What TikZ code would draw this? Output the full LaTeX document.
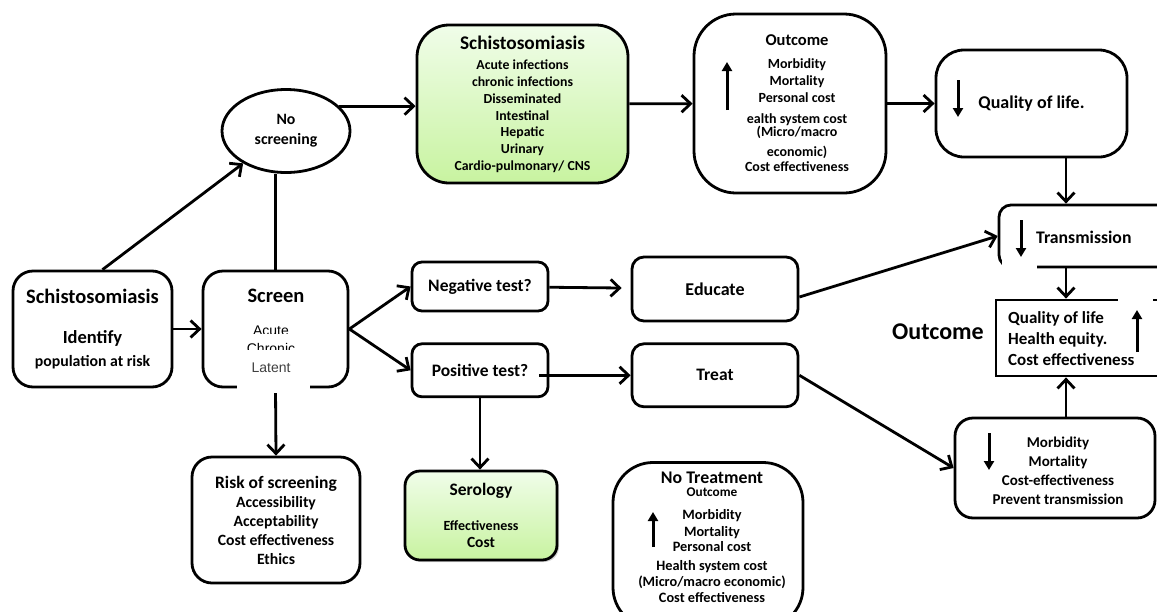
\documentclass[tikz,border=0pt]{standalone}
\usepackage{fontspec}
\setmainfont{Carlito}
\newfontfamily\latentfont{Liberation Sans}
\usetikzlibrary{positioning,calc,arrows.meta,shapes.geometric,shadows}
\definecolor{gtop}{HTML}{F0FDE9}
\definecolor{gbot}{HTML}{C8F3A0}
\newcommand{\setfs}[2]{\fontsize{#1}{#2}\selectfont}
\tikzset{dbox/.style={draw, line width=2.8pt, rounded corners=#1, align=center, inner sep=0pt}, dbox/.default=12pt}
\tikzset{dtxt/.style={inner sep=0pt, align=center}}
\tikzset{fsz/.style 2 args={font=\fontsize{#1}{#2}\selectfont\bfseries}}
\tikzset{dgreen/.style={top color=gtop, bottom color=gbot}}
\tikzset{darr/.style={draw, line width=2.8pt, -{Straight Barb[length=9pt,width=17pt]}}}
\tikzset{dline/.style={draw, line width=2.8pt}}
\tikzset{dbig/.style={draw, line width=3pt, -{Triangle[length=9pt,width=10pt]}}}
\tikzset{scrtxt/.style={anchor=base, inner sep=0pt, font=\latentfont\setfs{14}{16}}}

\begin{document}
\begin{tikzpicture}[x=1pt, y=-1pt]
\useasboundingbox (0,0) rectangle (1157,611);
\clip (0,0) rectangle (1157,611);
%
\node[dbox=20pt, minimum width=159pt, minimum height=116pt, fsz={15.8}{22}] (idn) at (92.5,329)
	{{\setfs{20.5}{22}Schistosomiasis}\\[18pt]{\setfs{18.5}{22}Identify}\\[1pt]population at risk};
\node[dbox=20pt, minimum width=145pt, minimum height=116pt] (scr) at (275.5,329) {};
\node[dtxt, fsz={20.5}{22}] (scrt) at (276,296) {Screen};
\node[draw, ellipse, line width=2.8pt, minimum width=128pt, minimum height=83pt, dtxt, fsz={15.8}{20}] (nos) at (286,131) {No\\screening};
%
\node[dbox=32pt, dgreen, minimum width=211pt, minimum height=158pt, fsz={13.8}{16.7}] (dis) at (522.5,104)
	{{\setfs{19.3}{16.7}Schistosomiasis}\\[4pt]Acute infections\\chronic infections\\Disseminated\\Intestinal\\Hepatic\\Urinary\\Cardio-pulmonary/ CNS};
\node[dbox=42pt, minimum width=192pt, minimum height=179pt] (out1) at (790,103.5) {};
\node[dtxt, fsz={14}{17}] (out1t) at (797,103)
	{{\setfs{16.5}{17}Outcome}\\[6pt]Morbidity\\Mortality\\Personal cost\\[4pt]ealth system cost\\[-4pt](Micro/macro\\[3pt]economic)\\[-2pt]Cost effectiveness};
\node[dbox=28pt, minimum width=191pt, minimum height=107pt, fsz={18}{20}] (qol) at (1031.5,103.5) {Quality of life.};
%
\node[dbox=12pt, minimum width=180pt, minimum height=62pt] (trn) at (1089,236) {};
\node[dtxt, fsz={17.7}{20}, anchor=west] (trnt) at (1036,237) {Transmission};
\node[dbox, sharp corners, minimum width=182pt, minimum height=76pt] (out2) at (1087,338) {};
\node[dtxt, fsz={17}{21}, anchor=west, align=left] (out2t) at (1008,339) {Quality of life\\Health equity.\\Cost effectiveness};
\node[dtxt, fsz={24}{28}] (outl) at (938,332) {Outcome};
\node[dbox=18pt, minimum width=200pt, minimum height=100pt] (mor) at (1055,468) {};
\node[dtxt, fsz={15}{19}] (mort) at (1058,471) {Morbidity\\Mortality\\Cost-effectiveness\\Prevent transmission};
%
\node[dbox=10pt, minimum width=136pt, minimum height=49pt, fsz={17.5}{20}] (neg) at (480,286.5) {Negative test?};
\node[dbox=10pt, minimum width=136pt, minimum height=53pt, fsz={17.5}{20}, below=30pt of neg] (pos) {Positive test?};
\node[dbox, minimum width=166pt, minimum height=64pt, fsz={18}{20}] (edu) at (715,289) {Educate};
\node[dbox, minimum width=166pt, minimum height=63pt, fsz={17.5}{20}, below=20pt of edu] (trt) {Treat};
%
\node[dbox=15pt, dgreen, drop shadow={shadow xshift=2pt, shadow yshift=-2pt, opacity=0.35}, minimum width=152pt, minimum height=89pt, fsz={14}{17}] (ser) at (481,515.5)
	{{\setfs{17.5}{17}Serology}\\[18pt]Effectiveness\\{\setfs{15.5}{17}Cost}};
\node[dbox=20pt, minimum width=168pt, minimum height=126pt, fsz={15.7}{19}] (rsk) at (276,520)
	{{\setfs{17.5}{19}Risk of screening}\\Accessibility\\Acceptability\\Cost effectiveness\\Ethics};
\node[dbox=40pt, minimum width=190pt, minimum height=165pt] (ntr) at (708,545) {};
\node[dtxt, fsz={14.3}{16}, anchor=north] (ntrt) at (712,472)
	{{\setfs{17.8}{16}No Treatment}\\[-3pt]{\setfs{13.3}{16}Outcome}\\[7pt]Morbidity\\[1pt]Mortality\\[-1pt]Personal cost\\[3pt]Health system cost\\(Micro/macro economic)\\Cost effectiveness};
%
\coordinate (colx) at (1066,0);
\draw[darr] (idn) -- (scr);
\draw[darr] ([xshift=10pt]idn.north) -- (nos);
\draw[dline] (scr.north) -- (scr.north |- nos.south);
\draw[darr] (nos.25) -- (nos.25 -| dis.west);
\draw[darr] (dis) -- (out1);
\draw[darr] (out1) -- (qol);
\draw[darr] (qol.south -| colx) -- (trn.north -| colx);
\draw[darr] (trn.south -| colx) -- (out2.north -| colx);
\draw[darr] (mor.north -| colx) -- (out2.south -| colx);
\draw[darr] (scr.east) -- (neg.west);
\draw[darr] (scr.east) -- (pos.west);
\draw[darr, shorten >=9pt] (neg) -- (edu);
\draw[darr] ([xshift=-10pt]pos.east |- trt.west) -- (trt.west);
\draw[darr] ([yshift=-8pt]edu.east) -- (trn.west);
\draw[darr] (trt.east) -- (mor.west);
\draw[darr] (pos.south) -- (pos.south |- ser.north);
\draw[darr] (scr.south) -- (rsk.north);
%
% text frames lying over the boxes
\node[scrtxt] (acu) at (271,335) {Acute};
\fill[white] (232,333.5) rectangle (312,341);
\node[scrtxt] (chr) at (271,353) {Chronic};
\fill[white] (237,350) rectangle (310,393);
\node[scrtxt, text=black!75] (lat) at (271,372) {Latent};
\fill[white] (1002,259) rectangle (1037,272);
\fill[white] (1118,295) rectangle (1153,357);
%
\draw[dbig] (727,110) -- (727,62);
\draw[dbig] (958,80) -- (958,117);
\draw[dbig] (1021,220) -- (1021,257);
\draw[dbig] (1137,352) -- (1137,310);
\draw[dbig] (989,433) -- (989,470);
\draw[dbig] (653,547) -- (653,512);
\end{tikzpicture}
\end{document}
